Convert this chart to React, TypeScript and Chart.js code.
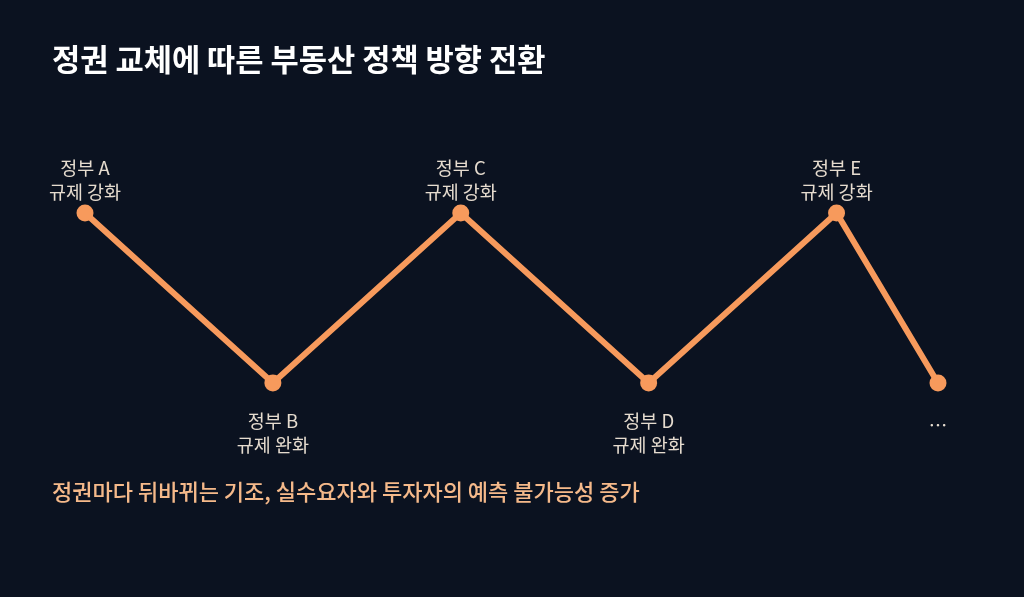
import { useEffect, useRef } from "react";
import { Chart, registerables, type Plugin } from "chart.js";

Chart.register(...registerables);

const FONT = '"Noto Sans CJK KR", "Noto Sans", sans-serif';

const TITLE = "정권 교체에 따른 부동산 정책 방향 전환";
const CAPTION = "정권마다 뒤바뀌는 기조, 실수요자와 투자자의 예측 불가능성 증가";

// x position of each government (the last "..." sits half way to the next)
const steps = [0, 1, 2, 3, 4, 4.54];
// 1 = regulation tightened, 0 = regulation eased
const stance = [1, 0, 1, 0, 1, 0];
const governments = ["정부 A", "정부 B", "정부 C", "정부 D", "정부 E", "…"];
const policies = ["규제 강화", "규제 완화", "규제 강화", "규제 완화", "규제 강화", ""];

const LINE = "#f79a5c";

const pointLabels: Plugin<"line"> = {
  id: "pointLabels",
  afterDatasetsDraw(chart) {
    const { ctx } = chart;
    const meta = chart.getDatasetMeta(0);
    ctx.save();
    ctx.font = `400 18.5px ${FONT}`;
    ctx.fillStyle = "#e6dccf";
    ctx.textAlign = "center";
    ctx.textBaseline = "middle";
    meta.data.forEach((pt, i) => {
      const up = stance[i] === 1;
      const lines = [governments[i], policies[i]].filter(Boolean);
      if (up) {
        ctx.fillText(lines[0], pt.x, pt.y - 45);
        if (lines[1]) ctx.fillText(lines[1], pt.x, pt.y - 21);
      } else if (lines.length === 1) {
        ctx.fillText(lines[0], pt.x, pt.y + 42);
      } else {
        ctx.fillText(lines[0], pt.x, pt.y + 38);
        ctx.fillText(lines[1], pt.x, pt.y + 62);
      }
    });
    ctx.restore();
  },
};

function PolicyChart() {
  const ref = useRef<HTMLCanvasElement | null>(null);
  const chartRef = useRef<Chart<"line"> | null>(null);

  useEffect(() => {
    if (!ref.current) return;
    chartRef.current?.destroy();
    chartRef.current = new Chart(ref.current, {
      type: "line",
      data: {
        datasets: [
          {
            data: steps.map((x, i) => ({ x, y: stance[i] })),
            borderColor: LINE,
            backgroundColor: LINE,
            borderWidth: 6,
            pointRadius: 8.5,
            pointHoverRadius: 8.5,
            pointBorderWidth: 0,
            tension: 0,
            clip: false,
          },
        ],
      },
      options: {
        animation: false,
        responsive: true,
        maintainAspectRatio: false,
        layout: { padding: { left: 85, right: 86, top: 213, bottom: 214 } },
        plugins: { legend: { display: false }, tooltip: { enabled: false } },
        scales: {
          x: { type: "linear", min: 0, max: 4.54, display: false },
          y: { min: 0, max: 1, display: false },
        },
      },
      plugins: [pointLabels],
    });
    return () => chartRef.current?.destroy();
  }, []);

  return (
    <div style={{ position: "absolute", inset: 0 }}>
      <canvas ref={ref} />
    </div>
  );
}

export default function App() {
  return (
    <div
      style={{
        position: "fixed",
        inset: 0,
        width: 1024,
        height: 597,
        background: "#0b1220",
        fontFamily: FONT,
        overflow: "hidden",
      }}
    >
      <PolicyChart />
      <div
        style={{
          position: "absolute",
          left: 52,
          top: 35,
          color: "#ffffff",
          fontSize: 30.7,
          fontWeight: 700,
          lineHeight: "46px",
          whiteSpace: "nowrap",
        }}
      >
        {TITLE}
      </div>
      <div
        style={{
          position: "absolute",
          left: 52,
          top: 473,
          color: "#f5b98a",
          fontSize: 22,
          fontWeight: 500,
          lineHeight: "34px",
          whiteSpace: "nowrap",
        }}
      >
        {CAPTION}
      </div>
    </div>
  );
}
